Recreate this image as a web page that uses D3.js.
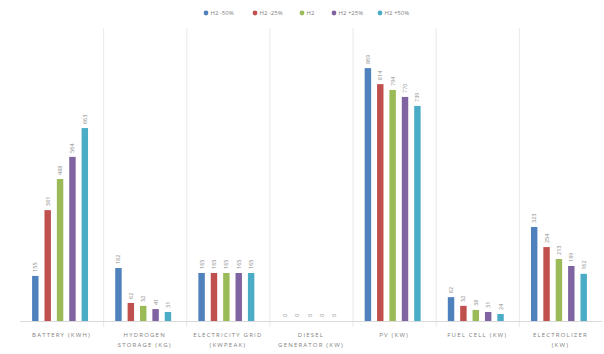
<!DOCTYPE html>
<html>
<head>
<meta charset="utf-8">
<script src="https://cdn.jsdelivr.net/npm/d3@7/dist/d3.min.js"></script>
<style>
  html, body { margin: 0; padding: 0; background: #fff; }
  svg { display: block; font-family: "Open Sans", "DejaVu Sans", sans-serif; }
</style>
</head>
<body>
<svg id="chart" width="604" height="354"></svg>
<script>
// Component sizes for each hydrogen-price scenario
const categories = [
  ["BATTERY (KWH)"],
  ["HYDROGEN", "STORAGE (KG)"],
  ["ELECTRICITY GRID", "(KWPEAK)"],
  ["DIESEL", "GENERATOR (KW)"],
  ["PV (KW)"],
  ["FUEL CELL (KW)"],
  ["ELECTROLIZER", "(KW)"]
];
const seriesNames = ["H2 -50%", "H2 -25%", "H2", "H2 +25%", "H2 +50%"];
const seriesColors = ["#4F81BD", "#C0504D", "#9BBB59", "#8064A2", "#4BACC6"];

const h2Minus50 = [155, 182, 165, 0, 869, 82, 323];
const h2Minus25 = [381, 62, 165, 0, 814, 52, 254];
const h2Base    = [488, 52, 165, 0, 794, 38, 213];
const h2Plus25  = [564, 41, 165, 0, 770, 31, 189];
const h2Plus50  = [663, 31, 165, 0, 739, 24, 162];
const seriesValues = [h2Minus50, h2Minus25, h2Base, h2Plus25, h2Plus50];

const yMax = 1000;

const svg = d3.select("#chart");
const margin = { left: 20, right: 2, top: 30, bottom: 33 };
const W = 604, H = 354;
const baseY = H - margin.bottom;

const x0 = d3.scaleBand()
  .domain(d3.range(categories.length))
  .range([margin.left, W - margin.right])
  .paddingInner(0).paddingOuter(0);

const x1 = d3.scaleBand()
  .domain(d3.range(seriesNames.length))
  .range([9, x0.bandwidth() - 12])
  .paddingInner(0.48).paddingOuter(0.25);

const y = d3.scaleLinear().domain([0, yMax]).range([baseY, margin.top]);

// category separators
svg.append("g")
  .selectAll("line")
  .data(d3.range(1, categories.length))
  .join("line")
  .attr("x1", i => x0(i) + 0.5).attr("x2", i => x0(i) + 0.5)
  .attr("y1", margin.top - 2).attr("y2", baseY + 6)
  .attr("stroke", "#e9e9e9").attr("stroke-width", 1);

// baseline
svg.append("line")
  .attr("x1", margin.left).attr("x2", W - margin.right)
  .attr("y1", baseY + 0.5).attr("y2", baseY + 0.5)
  .attr("stroke", "#d9d9d9").attr("stroke-width", 1);

// bars
const groups = svg.append("g")
  .selectAll("g")
  .data(categories.map((c, i) => i))
  .join("g")
  .attr("transform", i => `translate(${x0(i)},0)`);

groups.selectAll("rect")
  .data(ci => seriesValues.map((vals, si) => ({ si, v: vals[ci] })))
  .join("rect")
  .attr("x", d => x1(d.si))
  .attr("width", x1.bandwidth())
  .attr("y", d => y(d.v))
  .attr("height", d => baseY - y(d.v))
  .attr("fill", d => seriesColors[d.si]);

// value labels, rotated above each bar
groups.selectAll("text.val")
  .data(ci => seriesValues.map((vals, si) => ({ si, v: vals[ci] })))
  .join("text")
  .attr("class", "val")
  .attr("transform", d => `translate(${x1(d.si) + x1.bandwidth() / 2 + 2},${y(d.v) - 4}) rotate(-90)`)
  .attr("text-anchor", "start")
  .attr("font-size", 5.5)
  .attr("fill", "#8c8c8c")
  .text(d => d3.format("d")(d.v));

// category labels
const catLabels = svg.append("g")
  .selectAll("text")
  .data(categories)
  .join("text")
  .attr("x", (d, i) => x0(i) + x0.bandwidth() / 2)
  .attr("y", baseY + 16)
  .attr("text-anchor", "middle")
  .attr("font-size", 6)
  .attr("letter-spacing", 1.2)
  .attr("fill", "#7f7f7f");
catLabels.selectAll("tspan")
  .data(d => d)
  .join("tspan")
  .attr("x", function () { return this.parentNode.getAttribute("x"); })
  .attr("dy", (d, i) => i === 0 ? 0 : 10)
  .text(d => d);

// legend
const legend = svg.append("g").attr("transform", "translate(206,13)");
const legendX = [0, 49, 96, 128, 174];
const items = legend.selectAll("g")
  .data(seriesNames)
  .join("g")
  .attr("transform", (d, i) => `translate(${legendX[i]},0)`);
items.append("circle").attr("r", 2.4).attr("cx", 0).attr("cy", 0)
  .attr("fill", (d, i) => seriesColors[i]);
items.append("text").attr("x", 4.5).attr("y", 2.1)
  .attr("font-size", 6).attr("fill", "#7f7f7f")
  .text(d => d);
</script>
</body>
</html>
